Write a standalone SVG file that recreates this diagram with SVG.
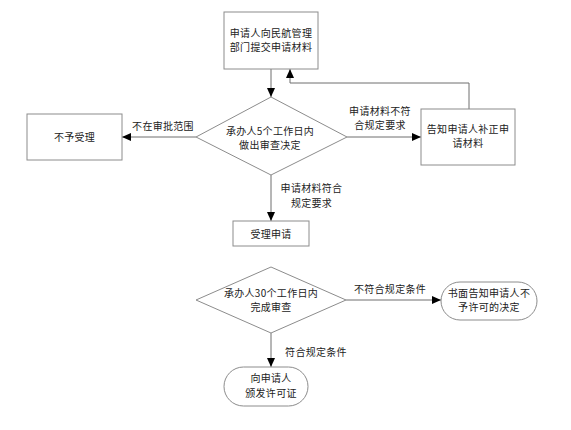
<svg xmlns="http://www.w3.org/2000/svg" width="571" height="430" viewBox="0 0 571 430">
<style>
.n{fill:#fff;stroke:#8c8c8c;stroke-width:1}
.c{fill:none;stroke:#6e6e6e;stroke-width:1}
text{font-family:"Noto Sans CJK SC","Noto Sans",sans-serif;font-size:10px;letter-spacing:0.3px;fill:#222;text-anchor:middle}
</style>
<defs>
<marker id="a" markerUnits="userSpaceOnUse" markerWidth="9" markerHeight="8" viewBox="0 0 9 8" refX="9" refY="4" orient="auto">
<path d="M0,0L9,4L0,8z" fill="#000"/>
</marker>
</defs>
<rect width="571" height="430" fill="#fff"/>
<g id="connectors">
<path class="c" d="M271,69V97" marker-end="url(#a)"/>
<path class="c" d="M196,137H122" marker-end="url(#a)"/>
<path class="c" d="M347,137H421" marker-end="url(#a)"/>
<path class="c" d="M469,109V83H290V69" marker-end="url(#a)"/>
<path class="c" d="M271,175V221" marker-end="url(#a)"/>
<path class="c" d="M271,333V367" marker-end="url(#a)"/>
<path class="c" d="M346,300H441" marker-end="url(#a)"/>
<text x="163" y="130">不在审批范围</text>
<text y="114.8"><tspan x="380">申请材料不符</tspan><tspan x="380" dy="14">合规定要求</tspan></text>
<text y="192"><tspan x="311.5">申请材料符合</tspan><tspan x="311.5" dy="15">规定要求</tspan></text>
<text x="316" y="356">符合规定条件</text>
<text x="390" y="293">不符合规定条件</text>
</g>
<g id="submit">
<rect class="n" x="224" y="12" width="94" height="57"/>
<text y="37.3"><tspan x="271">申请人向民航管理</tspan><tspan x="271" dy="14">部门提交申请材料</tspan></text>
</g>
<g id="review5">
<path class="n" d="M271,97L347,137L271,175L196,137z"/>
<text y="134.5"><tspan x="270">承办人5个工作日内</tspan><tspan x="270" dy="14">做出审查决定</tspan></text>
</g>
<g id="reject">
<rect class="n" x="27" y="114" width="95" height="46"/>
<text x="74.5" y="141">不予受理</text>
</g>
<g id="notify">
<rect class="n" x="421" y="109" width="94" height="56"/>
<text y="133.1"><tspan x="468">告知申请人补正申</tspan><tspan x="468" dy="14">请材料</tspan></text>
</g>
<g id="accept">
<rect class="n" x="233" y="221" width="76" height="25"/>
<text x="271" y="237.5">受理申请</text>
</g>
<g id="review30">
<path class="n" d="M271,267L346,300L271,333L196,300z"/>
<text y="297.3"><tspan x="271">承办人30个工作日内</tspan><tspan x="271" dy="14">完成审查</tspan></text>
</g>
<g id="issue">
<rect class="n" x="224" y="367" width="84" height="39" rx="19.5"/>
<text y="382"><tspan x="271">向申请人</tspan><tspan x="271" dy="15">颁发许可证</tspan></text>
</g>
<g id="deny">
<rect class="n" x="441" y="282" width="96" height="38" rx="19"/>
<text y="297"><tspan x="489">书面告知申请人不</tspan><tspan x="489" dy="14">予许可的决定</tspan></text>
</g>
</svg>
